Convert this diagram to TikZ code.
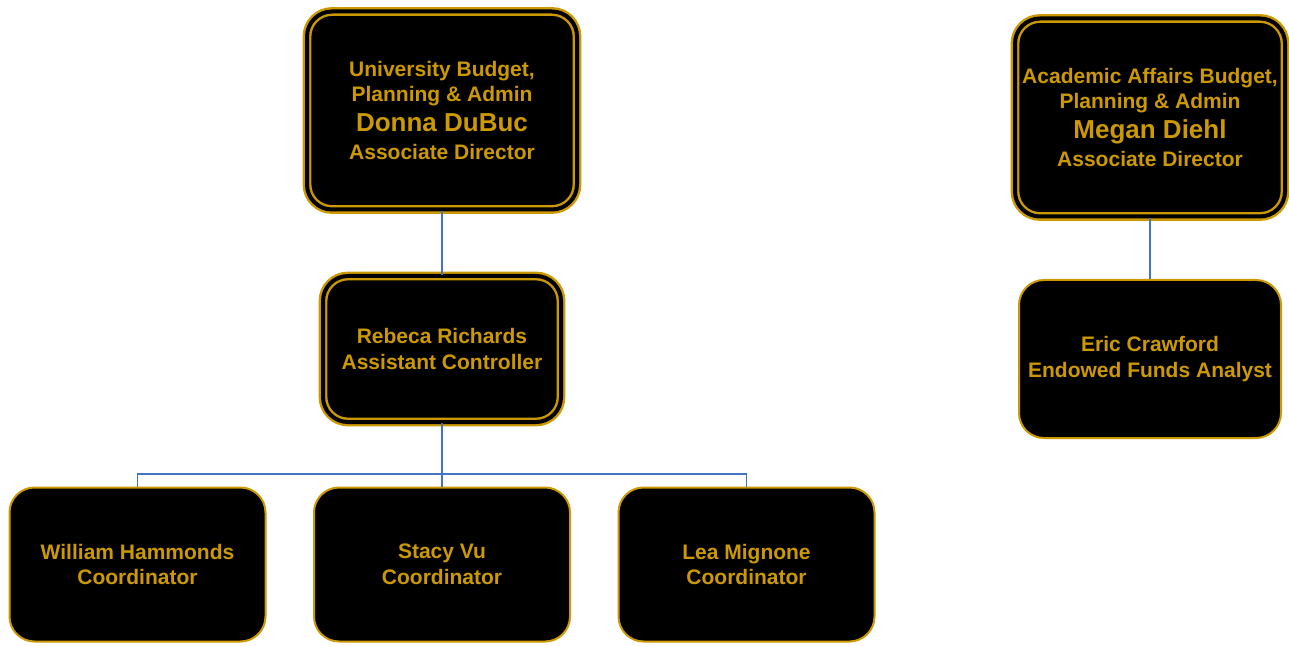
\documentclass[tikz,border=0pt]{standalone}
\usepackage{fontspec}
\setmainfont{Liberation Sans}
\usepackage{tikz}
\usetikzlibrary{positioning}
\definecolor{gold}{RGB}{204,153,0}
\definecolor{link}{RGB}{68,114,196}

\begin{document}
\begin{tikzpicture}[
  x = 0.5pt,
  y = -0.5pt,
  box/.style = {
    draw = gold,
    fill = black,
    rectangle,
    rounded corners = 12.5pt,
    line width = 1pt,
    text = gold,
    align = center,
    font = \fontsize{10.5}{12.8}\selectfont\bfseries,
  },
  headbox/.style = {
    box,
    double = black,
    double distance = 2pt,
    line width = 1.2pt,
  },
  conn/.style = {
    draw = link,
    line width = 0.8pt,
  },
]

  \useasboundingbox (0,0) rectangle (1289,646);

  \node[headbox,minimum width=135pt,minimum height=99pt] (donna) at (442,110.5)
    {University Budget,\\Planning \& Admin\\[2pt]{\fontsize{13}{14}\selectfont Donna DuBuc}\\[1.5pt]Associate Director};
  \node[headbox,minimum width=119pt,minimum height=73pt] (rebeca) at (442,349)
    {Rebeca Richards\\Assistant Controller};

  \node[box,minimum width=128pt,minimum height=77pt] (stacy) at (442,564.5)
    {Stacy Vu\\Coordinator};
  \node[box,minimum width=128pt,minimum height=77pt] (william) at (137.5,564.5)
    {William Hammonds\\Coordinator};
  \node[box,minimum width=128pt,minimum height=77pt] (lea) at (746.5,564.5)
    {Lea Mignone\\Coordinator};

  \node[headbox,minimum width=135pt,minimum height=99pt] (megan) at (1150,117.5)
    {Academic Affairs Budget,\\Planning \& Admin\\[2pt]{\fontsize{13}{14}\selectfont Megan Diehl}\\[1.5pt]Associate Director};
  \node[box,minimum width=131pt,minimum height=79pt] (eric) at (1150,359)
    {Eric Crawford\\Endowed Funds Analyst};

  \coordinate (bus) at (442,474);

  \path[conn] (donna) -- (rebeca);
  \path[conn] (rebeca) -- (bus);
  \path[conn] (bus) -- (stacy);
  \path[conn] (william.north) |- (bus) -| (lea.north);
  \path[conn] (megan) -- (eric);

\end{tikzpicture}
\end{document}
